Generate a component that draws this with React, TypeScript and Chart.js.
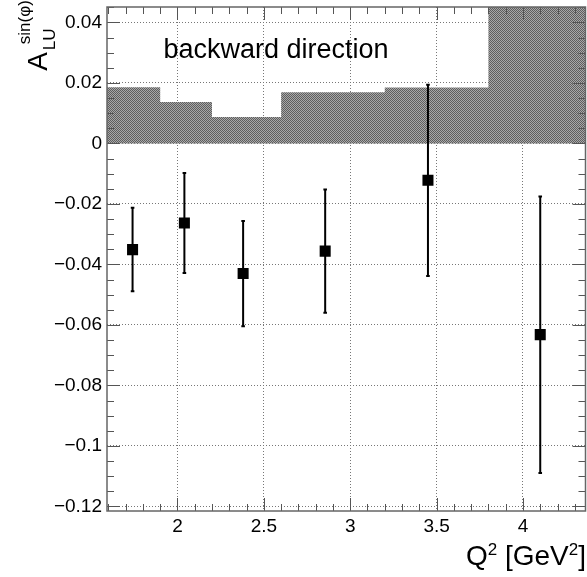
import React, { useEffect, useRef } from 'react';
import { Chart, registerables } from 'chart.js';

Chart.register(...registerables);

// ---- data ----
const xPoints = [1.74, 2.04, 2.38, 2.855, 3.45, 4.1];
const yPoints = [-0.0351, -0.0263, -0.043, -0.0356, -0.0122, -0.0632];
const yErrors = [0.0138, 0.0165, 0.0174, 0.0204, 0.0316, 0.0457];
// systematic band (histogram): left bin edges + final right edge
const sysEdges = [1.5, 1.9, 2.2, 2.6, 3.2, 3.8, 4.5];
const sysValues = [0.0186, 0.0137, 0.0087, 0.0169, 0.0185, 0.06];
const xTicks = [2, 2.5, 3, 3.5, 4];
const xTickLabels = ['2', '2.5', '3', '3.5', '4'];
const yTicks = [-0.12, -0.1, -0.08, -0.06, -0.04, -0.02, 0, 0.02, 0.04];
const yTickLabels = ['\u22120.12', '\u22120.1', '\u22120.08', '\u22120.06', '\u22120.04', '\u22120.02', '0', '0.02', '0.04'];
const xRange = [1.592, 4.362];
const yRange = [-0.1215, 0.0451];
const labelText = 'backward direction';

const FONT = '"Liberation Sans", Arial, Helvetica, sans-serif';

const rootFramePlugin = {
  id: 'rootFrame',
  afterDraw(chart: any) {
    const { ctx, chartArea: a, scales } = chart;
    const xs = scales.x;
    const ys = scales.y;
    ctx.save();
    // tick marks (inside the frame, on all four sides)
    ctx.strokeStyle = '#555';
    ctx.lineWidth = 1;
    ctx.beginPath();
    const xi0 = Math.ceil(xRange[0] * 10 - 1e-6);
    const xi1 = Math.floor(xRange[1] * 10 + 1e-6);
    for (let i = xi0; i <= xi1; i++) {
      const px = Math.round(xs.getPixelForValue(i / 10)) + 0.5;
      const len = i % 5 === 0 ? 13 : 7;
      ctx.moveTo(px, a.bottom);
      ctx.lineTo(px, a.bottom - len);
      ctx.moveTo(px, a.top);
      ctx.lineTo(px, a.top + len);
    }
    const yi0 = Math.ceil(yRange[0] * 200 - 1e-6);
    const yi1 = Math.floor(yRange[1] * 200 + 1e-6);
    for (let i = yi0; i <= yi1; i++) {
      const py = Math.round(ys.getPixelForValue(i / 200)) + 0.5;
      const len = i % 4 === 0 ? 13 : 7;
      ctx.moveTo(a.left, py);
      ctx.lineTo(a.left + len, py);
      ctx.moveTo(a.right, py);
      ctx.lineTo(a.right - len, py);
    }
    ctx.stroke();
    // frame
    ctx.strokeStyle = '#666';
    ctx.lineWidth = 1.5;
    ctx.strokeRect(a.left, a.top, a.right - a.left, a.bottom - a.top);

    ctx.fillStyle = '#000';
    ctx.textBaseline = 'alphabetic';
    ctx.textAlign = 'left';
    // label inside the plot
    ctx.font = `27px ${FONT}`;
    ctx.fillText(labelText, 163.5, 58);

    // x title: Q^2 [GeV^2], right aligned at the frame edge
    const big = `28px ${FONT}`;
    const small = `17px ${FONT}`;
    const segs: [string, string, number][] = [
      ['Q', big, 0],
      ['2', small, -10],
      [' [GeV', big, 0],
      ['2', small, -10],
      [']', big, 0],
    ];
    let total = 0;
    for (const [t, f] of segs) {
      ctx.font = f;
      total += ctx.measureText(t).width;
    }
    let cx = 586 - total;
    for (const [t, f, dy] of segs) {
      ctx.font = f;
      ctx.fillText(t, cx, 565 + dy);
      cx += ctx.measureText(t).width;
    }

    // y title: A^{sin(phi)}_{LU}, rotated
    ctx.save();
    ctx.translate(46.7, 70.7);
    ctx.rotate(-Math.PI / 2);
    ctx.font = `28px ${FONT}`;
    ctx.fillText('A', 0, 0);
    ctx.font = `17px ${FONT}`;
    ctx.fillText('LU', 20.5, 8.3);
    ctx.font = `17px ${FONT}`;
    ctx.fillText('sin(\u03c6)', 26.5, -17);
    ctx.restore();

    ctx.restore();
  },
};

export default function App() {
  const ref = useRef<HTMLCanvasElement | null>(null);

  useEffect(() => {
    const canvas = ref.current;
    if (!canvas) return;

    // grey checkered fill similar to ROOT fill style
    const pc = document.createElement('canvas');
    pc.width = 2;
    pc.height = 2;
    const pctx = pc.getContext('2d')!;
    pctx.fillStyle = '#a8a8a8';
    pctx.fillRect(0, 0, 2, 2);
    pctx.fillStyle = '#5e5e5e';
    pctx.fillRect(0, 0, 1, 1);
    pctx.fillRect(1, 1, 1, 1);
    const pattern = canvas.getContext('2d')!.createPattern(pc, 'repeat');

    const bandData = sysEdges.map((x, i) => ({
      x,
      y: sysValues[Math.min(i, sysValues.length - 1)],
    }));

    const pointData = xPoints.map((x, i) => ({ x, y: yPoints[i] }));

    const errorSets = xPoints.map((x, i) => ({
      type: 'line' as const,
      data: [
        { x, y: yPoints[i] - yErrors[i] },
        { x, y: yPoints[i] + yErrors[i] },
      ],
      borderColor: '#000',
      borderWidth: 2,
      pointStyle: 'line' as const,
      pointRadius: 1.8,
      pointBorderWidth: 2,
      pointBorderColor: '#000',
      fill: false,
      order: 1,
    }));

    const chart = new Chart(canvas, {
      type: 'scatter',
      data: {
        datasets: [
          {
            type: 'scatter',
            data: pointData,
            pointStyle: 'rect',
            pointRadius: 7.8,
            backgroundColor: '#000',
            borderWidth: 0,
            order: 0,
          } as any,
          ...errorSets,
          {
            type: 'line',
            data: bandData,
            stepped: 'before',
            fill: 'origin',
            backgroundColor: pattern,
            borderWidth: 0,
            pointRadius: 0,
            order: 2,
          } as any,
        ],
      },
      options: {
        animation: false,
        responsive: false,
        events: [],
        plugins: { legend: { display: false }, tooltip: { enabled: false } },
        layout: { autoPadding: false, padding: { top: 7, right: 1.5, left: 0, bottom: 0 } },
        scales: {
          x: {
            type: 'linear',
            min: xRange[0],
            max: xRange[1],
            z: 1,
            afterBuildTicks: (s: any) => {
              s.ticks = xTicks.map((v) => ({ value: v }));
            },
            afterFit: (s: any) => {
              s.height = 66;
              s.paddingLeft = 0;
              s.paddingRight = 0;
            },
            grid: { color: '#777', lineWidth: 1, drawTicks: false },
            border: { display: false, dash: [1, 2] },
            ticks: {
              callback: (_v: any, i: number) => xTickLabels[i],
              font: { family: FONT, size: 19 },
              color: '#000',
              padding: 4,
              maxRotation: 0,
              autoSkip: false,
            },
          },
          y: {
            type: 'linear',
            min: yRange[0],
            max: yRange[1],
            z: 1,
            afterBuildTicks: (s: any) => {
              s.ticks = yTicks.map((v) => ({ value: v }));
            },
            afterFit: (s: any) => {
              s.width = 107;
              s.paddingTop = 0;
              s.paddingBottom = 0;
            },
            grid: { color: '#777', lineWidth: 1, drawTicks: false },
            border: { display: false, dash: [1, 2] },
            ticks: {
              callback: (_v: any, i: number) => yTickLabels[i],
              font: { family: FONT, size: 19 },
              color: '#000',
              padding: 5,
              autoSkip: false,
            },
          },
        },
      },
      plugins: [rootFramePlugin],
    } as any);

    return () => chart.destroy();
  }, []);

  return (
    <div style={{ position: 'absolute', left: 0, top: 0, width: 587, height: 577, background: '#fff' }}>
      <canvas ref={ref} width={587} height={577} style={{ display: 'block' }} />
    </div>
  );
}
